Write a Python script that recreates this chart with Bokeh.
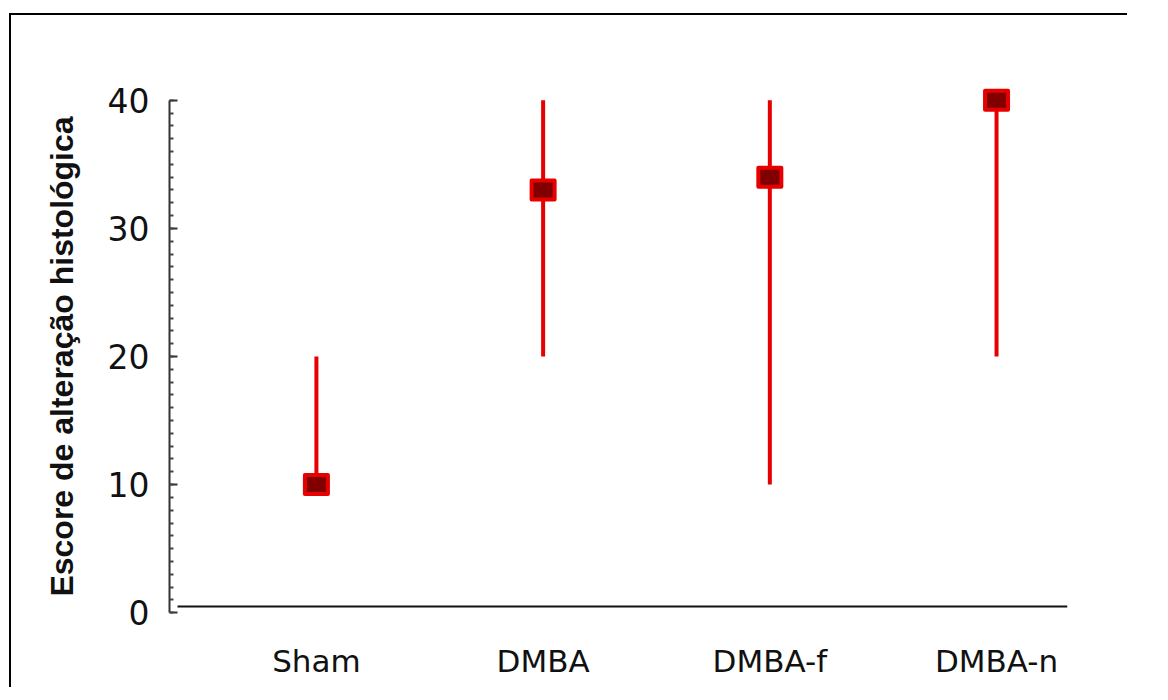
from bokeh.plotting import figure
from bokeh.models import (Range1d, SingleIntervalTicker, FixedTicker,
                          ColumnDataSource, LinearAxis)
from bokeh.embed import file_html
from bokeh.resources import INLINE

# ---- data ----
groups = ["Sham", "DMBA", "DMBA-f", "DMBA-n"]
median = [10, 33, 34, 40]
low = [10, 20, 10, 20]
high = [20, 40, 40, 40]
y_label = "Escore de alteração histológica"

xs = list(range(1, len(groups) + 1))
src = ColumnDataSource(dict(x=xs, median=median, low=low, high=high))

RED = "#e60000"
DARK = "#800000"

p = figure(frame_width=898, frame_height=538,
           output_backend="svg", toolbar_location=None,
           x_range=Range1d(0.352, 4.313), y_range=Range1d(-1.0, 41.0),
           min_border_left=158, min_border_right=60, min_border_top=72,
           min_border_bottom=62)
p.margin = (13, 0, 0, 9)
p.styles = {"border-top": "2px solid black", "border-left": "2px solid black"}

p.xgrid.visible = False
p.ygrid.visible = False
p.outline_line_color = None
p.background_fill_color = "white"
p.border_fill_color = "white"

# whiskers and medians
p.segment(x0="x", y0="low", x1="x", y1="high", source=src,
          line_color=RED, line_width=4)
p.rect(x="x", y="median", width=23, height=19, width_units="screen",
       height_units="screen", source=src, fill_color=DARK,
       line_color=RED, line_width=4, line_join="round")

# y axis
ya = p.yaxis[0]
ya.ticker = SingleIntervalTicker(interval=10, num_minor_ticks=10)
ya.bounds = (0, 40)
ya.axis_line_color = "#333333"
ya.axis_line_width = 2
ya.major_tick_in = 8
ya.major_tick_out = 0
ya.minor_tick_in = 4
ya.minor_tick_out = 0
ya.major_tick_line_color = "#333333"
ya.major_tick_line_width = 2
ya.minor_tick_line_color = "#444444"
ya.minor_tick_line_width = 2
ya.major_label_text_font = "DejaVu Sans"
ya.major_label_text_font_size = "33px"
ya.major_label_text_color = "#111111"
ya.major_label_standoff = 20
ya.axis_label = y_label
ya.axis_label_text_font = "Liberation Sans"
ya.axis_label_text_font_style = "bold"
ya.axis_label_text_font_size = "32px"
ya.axis_label_text_color = "#111111"
ya.axis_label_standoff = 25

# x axis: category labels at the frame bottom
xa = p.xaxis[0]
xa.ticker = FixedTicker(ticks=xs)
xa.major_label_overrides = {x: g for x, g in zip(xs, groups)}
xa.axis_line_color = None
xa.major_tick_line_color = None
xa.minor_tick_line_color = None
xa.major_label_text_font = "DejaVu Sans"
xa.major_label_text_font_size = "31px"
xa.major_label_text_color = "#111111"
xa.major_label_standoff = 11

# floating horizontal axis line
xline = LinearAxis(fixed_location=0.5, bounds=(0.387, 4.313),
                   ticker=FixedTicker(ticks=[]),
                   axis_line_color="#111111", axis_line_width=2,
                   major_tick_line_color=None, minor_tick_line_color=None,
                   major_label_text_color=None)
p.add_layout(xline, "below")

open("out.html", "w").write(file_html(p, INLINE))
